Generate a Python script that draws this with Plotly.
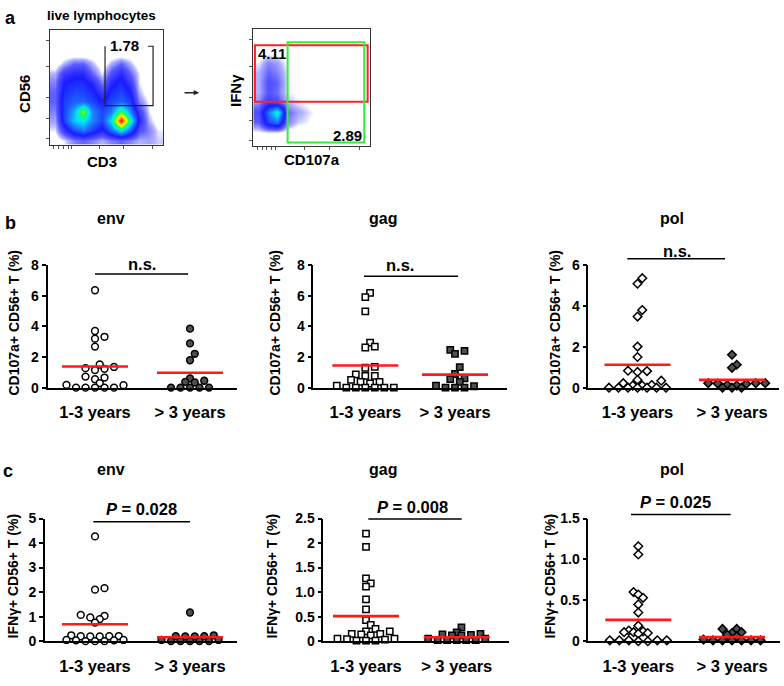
import numpy as np
import plotly.graph_objects as go

W, H = 784, 686
FONT = "Liberation Sans, Arial, Helvetica, sans-serif"

# ---------------- data ----------------
group_labels = ["1-3 years", "> 3 years"]
antigen_names = ["env", "gag", "pol"]
ytitle_b = "CD107a+ CD56+ T (%)"
ytitle_c = "IFNγ+ CD56+ T (%)"

# panel b : CD107a+ CD56+ T (%)
b_env_early = [6.36, 3.7, 3.32, 3.2, 2.68, 1.51, 1.35, 1.27, 1.23, 1.15, 0.72, 0.66, 0.55, 0.3, 0.18, 0.16, 0, 0, 0, 0, 0]
b_env_late = [3.85, 2.89, 2.21, 1.79, 0.6, 0.45, 0.38, 0.34, 0, 0, 0, 0, 0]
b_gag_early = [6.19, 5.91, 4.98, 2.94, 2.68, 2.62, 1.36, 1.30, 0.87, 0.77, 0.77, 0.51, 0.38, 0.38, 0.27, 0.13, 0, 0, 0, 0, 0, 0]
b_gag_late = [2.47, 2.4, 2.21, 1.34, 0.89, 0.6, 0.55, 0.38, 0.13, 0.09, 0, 0, 0]
b_pol_early = [5.36, 5.09, 3.8, 3.48, 2.01, 1.5, 0.83, 0.81, 0.77, 0.38, 0.34, 0.22, 0.13, 0.1, 0.1, 0, 0, 0, 0, 0, 0, 0]
b_pol_late = [1.61, 1.12, 0.97, 0.22, 0.22, 0.22, 0.2, 0.18, 0.13, 0.1, 0, 0, 0]
b_env_means = [1.38, 0.97]
b_gag_means = [1.45, 0.85]
b_pol_means = [1.12, 0.38]
b_stats = ["n.s.", "n.s.", "n.s."]

# panel c : IFNγ+ CD56+ T (%)
c_env_early = [4.27, 2.16, 2.1, 1.07, 1.03, 0.97, 0.9, 0.76, 0.24, 0.21, 0.2, 0.2, 0.19, 0.19, 0.05, 0.05, 0.03, 0.03, 0, 0, 0]
c_env_late = [1.17, 0.24, 0.2, 0.2, 0.19, 0.19, 0.05, 0.05, 0, 0, 0, 0, 0]
c_gag_early = [2.19, 1.92, 1.28, 1.18, 1.11, 0.85, 0.65, 0.43, 0.33, 0.25, 0.2, 0.2, 0.15, 0.15, 0.14, 0.12, 0.05, 0.05, 0.04, 0.03, 0.01, 0.01, 0.01]
c_gag_late = [0.28, 0.18, 0.15, 0.14, 0.13, 0.12, 0.12, 0.05, 0.05, 0.02, 0.02, 0.02, 0.02, 0.02]
c_pol_early = [1.16, 1.06, 0.60, 0.57, 0.53, 0.45, 0.35, 0.19, 0.13, 0.12, 0.11, 0.11, 0.1, 0.09, 0.01, 0.01, 0.01, 0.01, 0.01, 0, 0]
c_pol_late = [0.15, 0.15, 0.11, 0.1, 0.08, 0.06, 0.02, 0.01, 0.01, 0.01, 0.01, 0.01, 0.01]
c_env_means = [0.69, 0.16]
c_gag_means = [0.51, 0.08]
c_pol_means = [0.26, 0.05]
c_pvalues = ["0.028", "0.008", "0.025"]

# y-axis ticks
b_env_ticks = [0, 2, 4, 6, 8]
b_gag_ticks = [0, 2, 4, 6, 8]
b_pol_ticks = [0, 2, 4, 6]
c_env_ticks = [0, 1, 2, 3, 4, 5]
c_gag_ticks = [0, 0.5, 1.0, 1.5, 2.0, 2.5]
c_gag_ticktext = ["0", "0.5", "1.0", "1.5", "2", "2.5"]
c_pol_ticks = [0, 0.5, 1.0, 1.5]
c_pol_ticktext = ["0", "0.5", "1.0", "1.5"]

# panel a : flow cytometry density (coarse 12x12 grid, rows top -> bottom)
cd3_cd56_density = [
    [0, 0, 0, 0, 0, 0, 0, 0, 0, 0, 0, 0],
    [0, 0, 0, 0, 0, 0, 0, 0, 0, 0, 0, 0],
    [0, 0, 0, 0, 0, 0, 0, 0, 0, 0, 0, 0],
    [0, 0.5, 1.0, 1.0, 0.5, 0, 0.5, 1.0, 0.5, 0, 0, 0],
    [0.5, 1.5, 1.8, 1.8, 1.0, 0.3, 1.2, 1.8, 1.0, 0.3, 0, 0],
    [0.8, 2.0, 2.2, 2.2, 1.8, 0.8, 1.8, 2.2, 1.5, 0.3, 0, 0],
    [1.0, 2.2, 2.5, 2.5, 2.2, 1.5, 2.2, 2.5, 2.0, 0.5, 0, 0],
    [1.0, 2.4, 2.8, 2.8, 2.5, 2.0, 2.5, 2.8, 2.4, 0.8, 0.2, 0],
    [0.8, 2.5, 3.5, 5.5, 3.2, 2.5, 3.0, 5.0, 3.2, 1.5, 0.3, 0],
    [0.6, 2.4, 3.8, 4.2, 3.2, 2.5, 4.0, 8.0, 4.5, 1.8, 0.5, 0],
    [0.3, 1.5, 2.5, 3.0, 2.4, 1.8, 2.8, 4.0, 2.8, 1.2, 0.8, 0.3],
    [0, 0.3, 0.8, 1.0, 0.8, 0.5, 0.8, 1.0, 0.8, 0.5, 0.6, 0.4],
]
cd107a_ifng_density = [
    [0, 0, 0, 0, 0, 0, 0, 0, 0, 0, 0, 0],
    [0, 0, 0, 0, 0, 0, 0, 0, 0, 0, 0, 0],
    [0, 0.2, 0.2, 0, 0, 0, 0, 0, 0, 0, 0, 0],
    [0.3, 0.8, 0.6, 0.2, 0, 0, 0, 0, 0, 0, 0, 0],
    [0.5, 1.0, 0.8, 0.3, 0, 0, 0, 0, 0, 0, 0, 0],
    [0.5, 1.2, 1.0, 0.3, 0.2, 0, 0, 0, 0, 0, 0, 0],
    [0.5, 1.1, 0.9, 0.3, 0.2, 0.2, 0, 0, 0, 0, 0, 0],
    [0.7, 1.5, 1.2, 0.5, 0.3, 0.2, 0, 0, 0, 0, 0, 0],
    [1.2, 3.0, 4.5, 1.0, 0.6, 0.4, 0.2, 0, 0, 0, 0, 0],
    [1.0, 2.5, 3.0, 0.8, 0.4, 0.3, 0, 0, 0, 0, 0, 0],
    [0.2, 0.3, 0.3, 0.1, 0, 0, 0, 0, 0, 0, 0, 0],
    [0, 0, 0, 0, 0, 0, 0, 0, 0, 0, 0, 0],
]
gate_cd56_pct = "1.78"
gate_ifng_pct = "4.11"
gate_cd107a_pct = "2.89"

# ---------------- helpers ----------------
def px_x(x):
    return x / W

def px_y(y):
    return 1 - y / H

def swarm_offsets(vals, ppu, d=9.5, t=3.0, m=7.5):
    """Column-scatter layout (in pixels): points sharing a row need a full
    spacing d, points in a nearby row need half a spacing."""
    v = np.asarray(vals, float)
    order = np.argsort(v, kind="stable")
    cands = sorted([k * d / 2 for k in range(-24, 25)], key=lambda s: (abs(s), -s))
    placed = []
    offs = np.zeros(len(v))
    for i in order:
        y = v[i] * ppu
        chosen = 0.0
        for x in cands:
            ok = True
            for (qx, qy) in placed:
                dy = abs(y - qy)
                dx = abs(x - qx)
                if dy < t and dx < d - 1e-6:
                    ok = False
                    break
                if dy < m and dx < d / 2 - 1e-6:
                    ok = False
                    break
            if ok:
                chosen = x
                break
        placed.append((chosen, y))
        offs[i] = chosen
    return offs

fig = go.Figure()
layout = dict(
    width=W, height=H, autosize=False,
    margin=dict(l=0, r=0, t=0, b=0),
    paper_bgcolor="white", plot_bgcolor="white",
    showlegend=False,
    font=dict(family=FONT, color="black"),
)
annotations = []
shapes = []

def txt(x, y, s, size, angle=0, xanchor="center", yanchor="middle", weight="bold"):
    annotations.append(dict(
        x=px_x(x), y=px_y(y), xref="paper", yref="paper", text=s, showarrow=False,
        textangle=angle, xanchor=xanchor, yanchor=yanchor,
        font=dict(family=FONT, size=size, color="black", weight=weight)))

# ---------------- panel a ----------------
flow_colorscale = [
    [0.0, "#ffffff"], [0.03, "#ffffff"], [0.06, "#b4b4ff"], [0.13, "#5a5aff"],
    [0.25, "#1a1aff"], [0.38, "#1e78ff"], [0.5, "#00e5ff"], [0.62, "#20ff40"],
    [0.75, "#ffff00"], [0.87, "#ff8000"], [1.0, "#ff0000"],
]
centers = np.arange(12) + 0.5

flow_axes = [
    dict(k="", box=(50, 163, 23, 140), grid=cd3_cd56_density,
         xt=[0.35, 0.88, 1.4, 1.94, 2.3, 5.3, 7.8, 10.9],
         yt=[0.68, 2.75, 4.97, 8.23, 10.97]),
    dict(k="2", box=(253.3, 370, 21.7, 141.7), grid=cd107a_ifng_density,
         xt=[0.4, 0.9, 1.4, 1.9, 2.3, 5.3, 7.8, 10.9],
         yt=[0.6, 2.7, 5.0, 8.2, 10.9]),
]
for fa in flow_axes:
    l, r, t, b = fa["box"]
    k = fa["k"]
    fig.add_trace(go.Heatmap(
        z=np.array(fa["grid"])[::-1], x=centers, y=centers, zmin=0, zmax=8,
        zsmooth="best", colorscale=flow_colorscale, showscale=False,
        hoverinfo="skip", xaxis="x" + k, yaxis="y" + k))
    axstyle = dict(range=[0, 12], showline=True, mirror=True, linecolor="#333",
                   linewidth=1, ticks="outside", ticklen=3, tickcolor="#555",
                   showticklabels=False, showgrid=False, zeroline=False, fixedrange=True)
    layout["xaxis" + k] = dict(domain=[px_x(l), px_x(r)], anchor="y" + k,
                               tickvals=fa["xt"], **axstyle)
    layout["yaxis" + k] = dict(domain=[px_y(b), px_y(t)], anchor="x" + k,
                               tickvals=fa["yt"], **axstyle)

# gates (axis units of the 0-12 grid)
gate_bracket_x = [0.487 * 12, 0.487 * 12, 0.912 * 12, 0.912 * 12, 0.868 * 12]
gate_bracket_y = [0.862 * 12, 0.342 * 12, 0.342 * 12, 0.862 * 12, 0.862 * 12]
fig.add_trace(go.Scatter(x=gate_bracket_x, y=gate_bracket_y, mode="lines",
                         line=dict(color="#222", width=1.2), hoverinfo="skip",
                         xaxis="x", yaxis="y"))
shapes.append(dict(type="rect", xref="x2", yref="y2", x0=0.014 * 12, x1=0.98 * 12,
                   y0=0.381 * 12, y1=0.862 * 12, line=dict(color="#ff2020", width=2)))
shapes.append(dict(type="rect", xref="x2", yref="y2", x0=0.294 * 12, x1=0.951 * 12,
                   y0=0.033 * 12, y1=0.889 * 12, line=dict(color="#33ee33", width=2)))

txt(10, 10, "a", 18)
txt(101.7, 8, "live lymphocytes", 13.5)
txt(25, 88, "CD56", 15, angle=-90)
txt(101.7, 157, "CD3", 15)
txt(235, 85, "IFNγ", 15, angle=-90)
txt(312, 155, "CD107a", 15)
txt(124, 38.5, gate_cd56_pct, 15)
txt(272, 47, gate_ifng_pct, 15)
txt(347, 131, gate_cd107a_pct, 15)
annotations.append(dict(x=px_x(199), y=px_y(86.7), ax=-16, ay=0, xref="paper", yref="paper",
                        axref="pixel", ayref="pixel", showarrow=True, arrowhead=2,
                        arrowsize=0.7, arrowwidth=1.5, arrowcolor="#222", text=""))

# ---------------- panels b and c ----------------
panels = [
    # row b
    dict(data=(b_env_early, b_env_late), means=b_env_means, ymax=8, ticks=b_env_ticks, ticktext=None,
         sym="circle", xl=47.5, xr=237, yt=263.3, yb=388.7, c=(95, 190),
         sig=(95, 188, 272.3), stat=(141.5, 262), stat_text=b_stats[0], ytx=14, yty=322,
         ytitle=ytitle_b, title=(111, 216, antigen_names[0])),
    dict(data=(b_gag_early, b_gag_late), means=b_gag_means, ymax=8, ticks=b_gag_ticks, ticktext=None,
         sym="square", xl=313.3, xr=506.7, yt=263.3, yb=388.7, c=(365.3, 455),
         sig=(364, 458, 274.7), stat=(400, 263), stat_text=b_stats[1], ytx=275, yty=322,
         ytitle=ytitle_b, title=(383, 216, antigen_names[1])),
    dict(data=(b_pol_early, b_pol_late), means=b_pol_means, ymax=6, ticks=b_pol_ticks, ticktext=None,
         sym="diamond", xl=588.3, xr=779.3, yt=263.3, yb=388.7, c=(637.5, 732),
         sig=(627.3, 725, 256.7), stat=(676.7, 249.3), stat_text=b_stats[2], ytx=555, yty=322,
         ytitle=ytitle_b, title=(672, 216, antigen_names[2])),
    # row c
    dict(data=(c_env_early, c_env_late), means=c_env_means, ymax=5, ticks=c_env_ticks, ticktext=None,
         sym="circle", xl=45, xr=236.7, yt=522.7, yb=648.3, c=(95, 190),
         sig=(93.3, 190, 526), stat=(141.7, 513.3), stat_text="<i>P</i> = " + c_pvalues[0], ytx=13, yty=582,
         ytitle=ytitle_c, title=(111, 473, antigen_names[0])),
    dict(data=(c_gag_early, c_gag_late), means=c_gag_means, ymax=2.5, ticks=c_gag_ticks, ticktext=c_gag_ticktext,
         sym="square", xl=323.3, xr=509.3, yt=522.7, yb=648.3, c=(366, 456.7),
         sig=(368.3, 461.7, 523.3), stat=(412.7, 510.7), stat_text="<i>P</i> = " + c_pvalues[1], ytx=272, yty=582,
         ytitle=ytitle_c, title=(383, 473, antigen_names[1])),
    dict(data=(c_pol_early, c_pol_late), means=c_pol_means, ymax=1.5, ticks=c_pol_ticks, ticktext=c_pol_ticktext,
         sym="diamond", xl=588.3, xr=780, yt=522.7, yb=648.3, c=(638.3, 732),
         sig=(631, 730.7, 518.7), stat=(675, 506), stat_text="<i>P</i> = " + c_pvalues[2], ytx=550, yty=582,
         ytitle=ytitle_c, title=(672, 473, antigen_names[2])),
]

FILL_LATE = "#505050"
SIZES = {"circle": 6.8, "square": 6.3, "diamond": 6.6}
ROW_TOL = {"circle": 3.0, "square": 3.0, "diamond": 1.5}
for idx, p in enumerate(panels):
    k = str(idx + 3)
    c0, c1 = p["c"]
    u = c1 - c0
    ppu = (p["yb"] - p["yt"]) / p["ymax"]
    for gi, vals in enumerate(p["data"]):
        offs = swarm_offsets(vals, ppu, t=ROW_TOL[p["sym"]]) / u
        fig.add_trace(go.Scatter(
            x=gi + offs, y=vals, mode="markers", cliponaxis=False,
            marker=dict(symbol=p["sym"], size=SIZES[p["sym"]],
                        color="white" if gi == 0 else FILL_LATE,
                        line=dict(color="black", width=1.5)),
            xaxis="x" + k, yaxis="y" + k, hoverinfo="skip"))
    hw = 33 / u
    for gi, m in enumerate(p["means"]):
        fig.add_trace(go.Scatter(
            x=[gi - hw, gi + hw], y=[m, m], mode="lines", cliponaxis=False,
            line=dict(color="#ff1a1a", width=2.6),
            xaxis="x" + k, yaxis="y" + k, hoverinfo="skip"))
    layout["xaxis" + k] = dict(
        domain=[px_x(p["xl"]), px_x(p["xr"])], anchor="y" + k,
        range=[(p["xl"] - c0) / u, (p["xr"] - c0) / u],
        tickvals=[0, 1], ticktext=group_labels, ticks="", ticklabelstandoff=9,
        tickfont=dict(family=FONT, size=16.5, color="black", weight="bold"),
        showline=True, linecolor="black", linewidth=1.6,
        showgrid=False, zeroline=False, fixedrange=True)
    layout["yaxis" + k] = dict(
        domain=[px_y(p["yb"]), px_y(p["yt"])], anchor="x" + k,
        range=[0, p["ymax"]], tickvals=p["ticks"],
        ticktext=p["ticktext"] if p["ticktext"] else [str(t) for t in p["ticks"]],
        ticks="outside", ticklen=4, tickwidth=1.5, tickcolor="black",
        tickfont=dict(family=FONT, size=14, color="black", weight="bold"),
        showline=True, linecolor="black", linewidth=1.6,
        showgrid=False, zeroline=False, fixedrange=True)
    sx0, sx1, sy = p["sig"]
    shapes.append(dict(type="line", xref="paper", yref="paper",
                       x0=px_x(sx0), x1=px_x(sx1), y0=px_y(sy), y1=px_y(sy),
                       line=dict(color="black", width=1.5)))
    txt(p["stat"][0], p["stat"][1], p["stat_text"], 16.5)
    txt(p["ytx"], p["yty"], p["ytitle"], 14, angle=-90)
    txt(p["title"][0], p["title"][1], p["title"][2], 16)

txt(10, 220, "b", 18)
txt(8, 474, "c", 18)

layout["annotations"] = annotations
layout["shapes"] = shapes
fig.update_layout(**layout)
fig.write_html("out.html", config={"displayModeBar": False},
               post_script="document.body.style.margin='0px';document.body.style.overflow='hidden';")
